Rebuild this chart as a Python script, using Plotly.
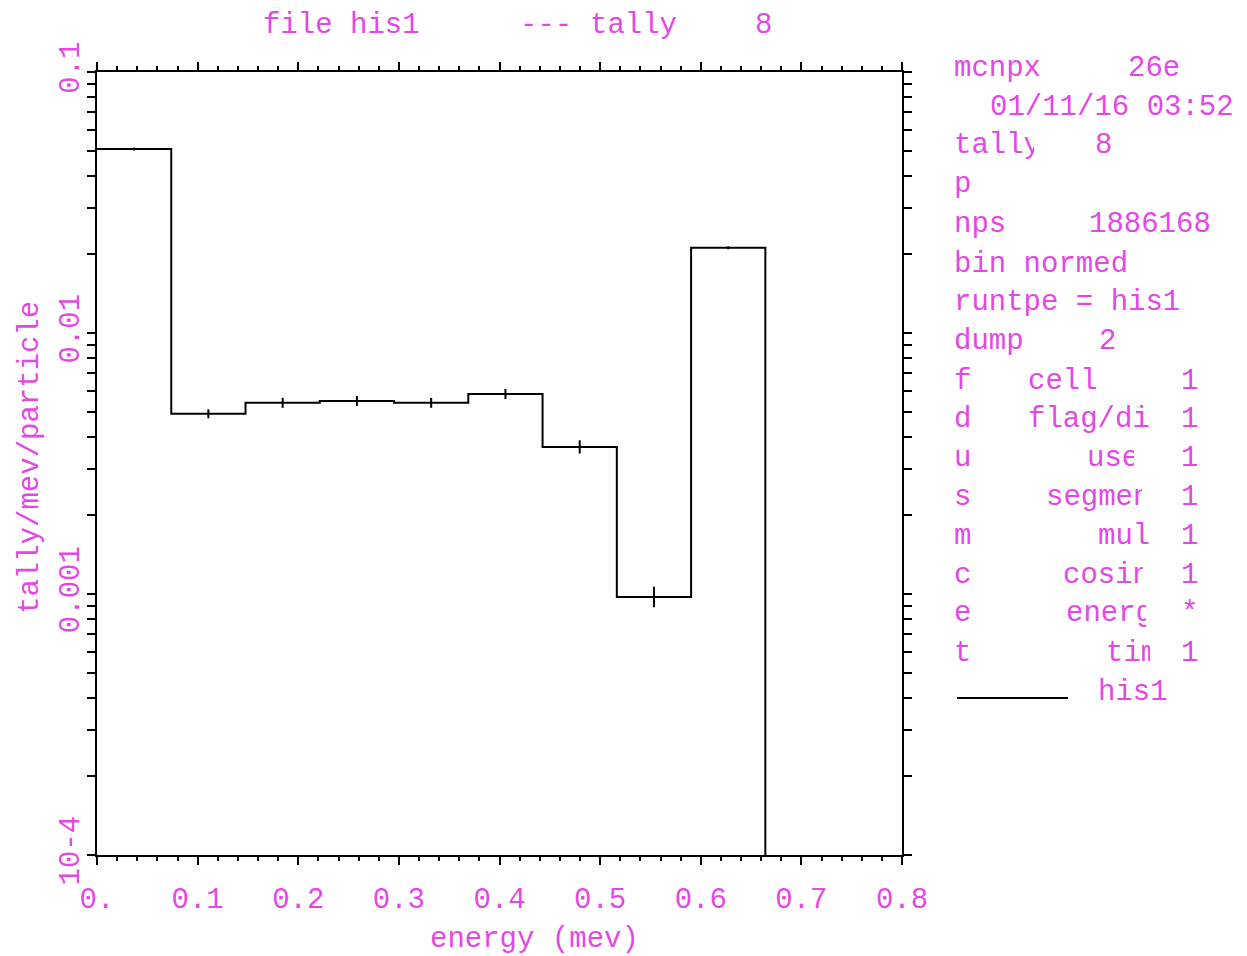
import plotly.graph_objects as go

# ---------------- data ----------------
bin_edges = [0.0, 0.0738, 0.1476, 0.2214, 0.2952, 0.3690, 0.4428, 0.5166, 0.5904, 0.6642]
bin_centers = [0.0369, 0.1107, 0.1845, 0.2583, 0.3321, 0.4059, 0.4797, 0.5535, 0.6273]
tally_values = [0.0507, 0.00490, 0.00540, 0.00549, 0.00540, 0.00584, 0.00366, 0.000974, 0.0212]
rel_errors = [0.013, 0.040, 0.045, 0.045, 0.045, 0.045, 0.060, 0.095, 0.013]
below_axis = 1e-5  # the histogram drops off the bottom after the last bin

x_tick_vals = [0.0, 0.1, 0.2, 0.3, 0.4, 0.5, 0.6, 0.7, 0.8]
x_tick_text = ["0.", "0.1", "0.2", "0.3", "0.4", "0.5", "0.6", "0.7", "0.8"]
y_tick_vals = [1e-4, 1e-3, 1e-2, 1e-1]
y_tick_text = ["10-4", "0.001", "0.01", "0.1"]

MAG = "#e448e4"
FONT = "Liberation Mono"
FS = 29

# ---------------- layout geometry (pixels) ----------------
W, H = 1247, 956
L, R, T, B = 97, 345, 72, 101
PW, PH = W - L - R, H - T - B


def px(x):
    return (x - L) / PW


def py(y):
    return (H - B - y) / PH


fig = go.Figure()

# histogram step line
step_x = bin_edges[:]
step_y = tally_values + [below_axis]
fig.add_trace(go.Scatter(
    x=step_x, y=step_y, mode="lines", line=dict(color="black", width=2, shape="hv"),
    showlegend=False, hoverinfo="skip"))

# error bars at bin midpoints
err_plus = [v * r for v, r in zip(tally_values, rel_errors)]
err_minus = [v * r / (1 + r) for v, r in zip(tally_values, rel_errors)]
fig.add_trace(go.Scatter(
    x=bin_centers, y=tally_values, mode="markers",
    marker=dict(size=1, color="black"),
    error_y=dict(type="data", array=err_plus, arrayminus=err_minus,
                 color="black", thickness=2, width=0),
    showlegend=False, hoverinfo="skip"))

axis_common = dict(
    showline=True, linecolor="black", linewidth=2, mirror="ticks",
    ticks="outside", tickcolor="black", tickwidth=2, ticklen=8,
    showgrid=False, zeroline=False,
    tickfont=dict(family=FONT, size=FS, color=MAG),
)

fig.update_xaxes(
    range=[0, 0.8], tickmode="array", tickvals=x_tick_vals, ticktext=x_tick_text,
    ticklabelstandoff=8,
    minor=dict(ticks="outside", dtick=0.02, tick0=0, ticklen=4, tickwidth=2,
               tickcolor="black", showgrid=False),
    **axis_common)
fig.update_yaxes(
    type="log", range=[-4, -1], tickmode="array", tickvals=y_tick_vals, ticktext=y_tick_text,
    tickangle=-90, ticklabelstandoff=-4,
    minor=dict(ticks="outside", dtick="D1", ticklen=8, tickwidth=2,
               tickcolor="black", showgrid=False),
    **axis_common)

annotations = []


def add_text(text, x, y, xanchor="left", size=FS, clip_w=None, angle=0):
    a = dict(text=text, x=px(x), y=py(y), xref="paper", yref="paper",
             xanchor=xanchor, yanchor="middle", showarrow=False, textangle=angle,
             font=dict(family=FONT, size=size, color=MAG), borderpad=0)
    if clip_w is not None:
        a["width"] = clip_w
        a["align"] = "left"
    annotations.append(a)


# title pieces
add_text("file his1", 262, 25)
add_text("---", 519, 25)
add_text("tally", 589, 25)
add_text("8", 754, 25)

# axis titles
add_text("energy (mev)", 534, 939, xanchor="center")
add_text("tally/mev/particle", 30, 458, xanchor="center", angle=-90)

# right-hand info panel
dy = 3
panel = [
    ("mcnpx", 953, 66, None), ("26e", 1127, 66, None),
    ("01/11/16 03:52", 989, 104, None),
    ("tally", 953, 142, 80), ("8", 1094, 142, None),
    ("p", 953, 182, None),
    ("nps", 953, 221, None), ("1886168", 1088, 221, None),
    ("bin normed", 953, 261, None),
    ("runtpe = his1", 953, 299, None),
    ("dump", 953, 338, None), ("2", 1098, 338, None),
    ("f", 953, 378, None), ("cell", 1027, 378, None), ("1", 1180, 378, None),
    ("d", 953, 416, None), ("flag/dir", 1027, 416, 123), ("1", 1180, 416, None),
    ("u", 953, 455, None), ("user", 1086, 455, 47), ("1", 1180, 455, None),
    ("s", 953, 494, None), ("segment", 1045, 494, 96), ("1", 1180, 494, None),
    ("m", 953, 533, None), ("mult", 1097, 533, 53), ("1", 1180, 533, None),
    ("c", 953, 572, None), ("cosine", 1062, 572, 80), ("1", 1180, 572, None),
    ("e", 953, 611, None), ("energy", 1065, 611, 80), ("*", 1180, 611, None),
    ("t", 953, 650, None), ("time", 1105, 650, 44), ("1", 1180, 650, None),
    ("his1", 1097, 689, None),
]
for text, x, y, cw in panel:
    add_text(text, x, y + dy, clip_w=cw)

# legend sample line
fig.add_shape(type="line", xref="paper", yref="paper",
              x0=px(957), x1=px(1068), y0=py(698), y1=py(698),
              line=dict(color="black", width=2))

fig.update_layout(
    width=W, height=H,
    margin=dict(l=L, r=R, t=T, b=B, autoexpand=False),
    paper_bgcolor="white", plot_bgcolor="white",
    annotations=annotations, showlegend=False,
)

fig.write_html("out.html")
